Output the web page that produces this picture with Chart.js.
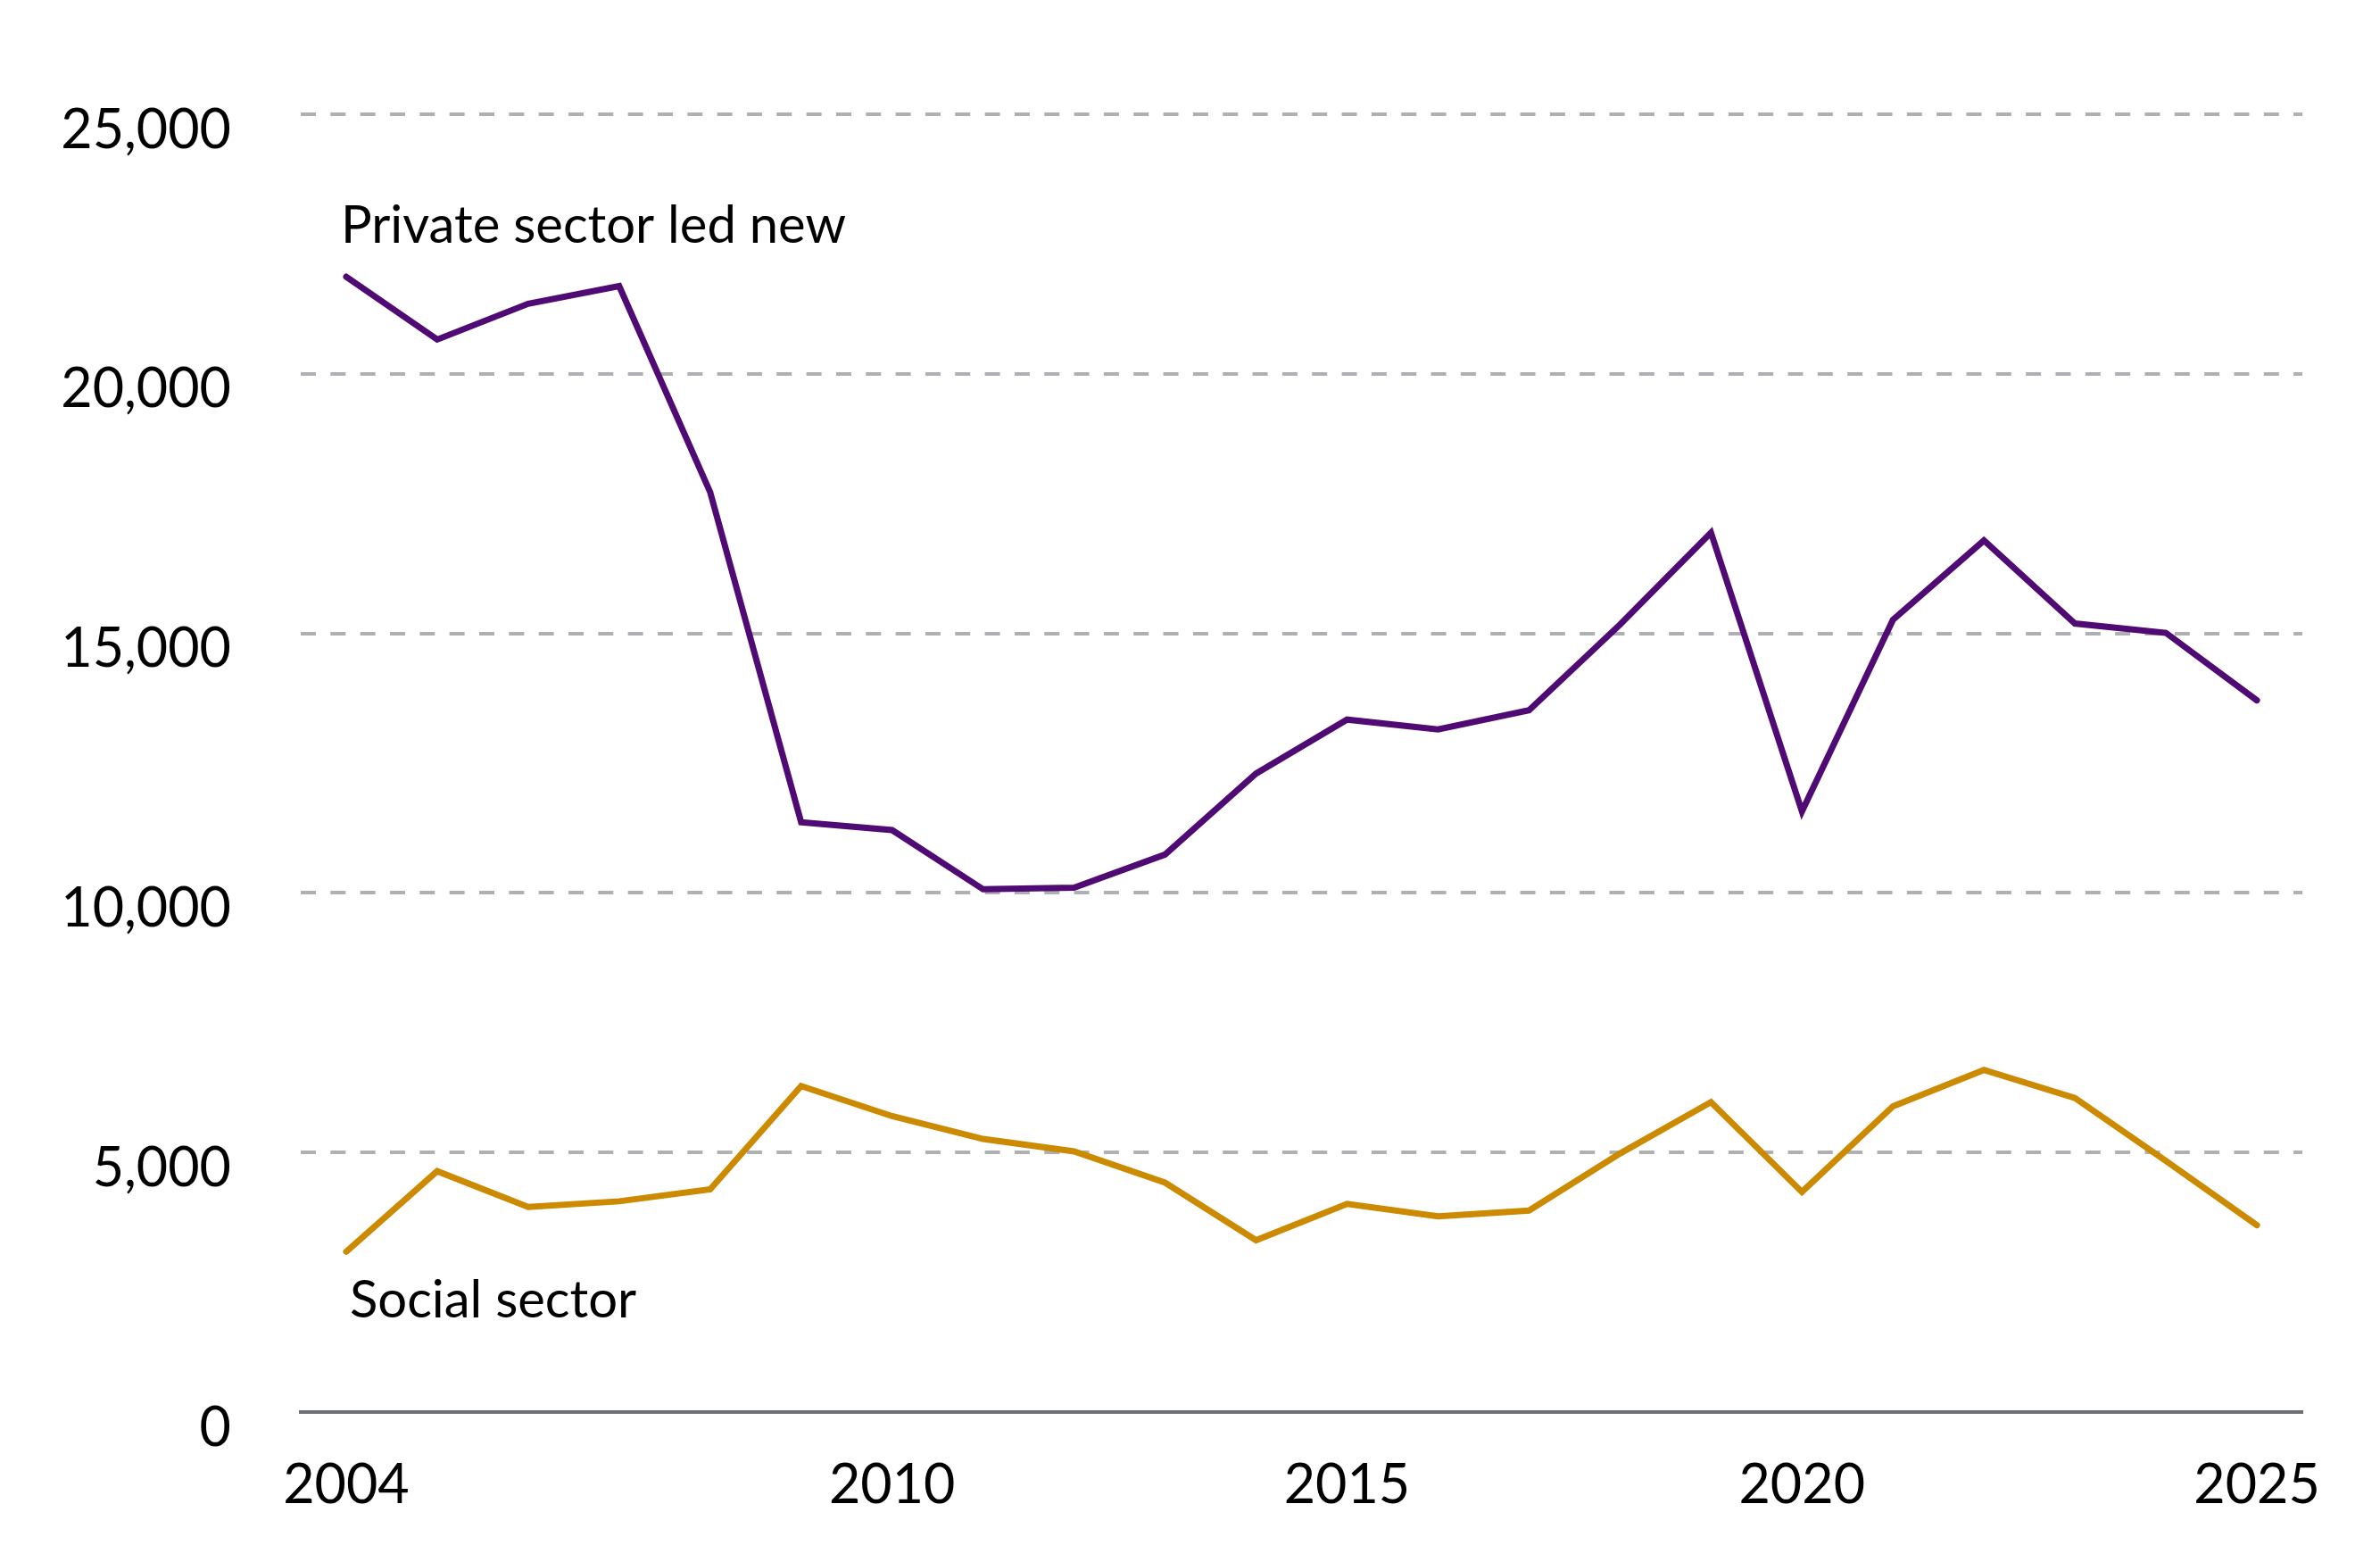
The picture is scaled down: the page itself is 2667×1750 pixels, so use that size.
<!DOCTYPE html>
<html>
<head>
<meta charset="utf-8">
<title>new build</title>
<script src="https://cdn.jsdelivr.net/npm/chart.js@4.4.1/dist/chart.umd.min.js"></script>
<style>
	body { margin:0; background:#ffffff; }
	canvas { display:block; }
</style>
</head>
<body>
<canvas id="myChart" width="2667" height="1750"></canvas>
<script>
//연도
const years = [2004,2005,2006,2007,2008,2009,2010,2011,2012,2013,2014,2015,2016,2017,2018,2019,2020,2021,2022,2023,2024,2025];
//민간 부문
const privateLed = [21870,20660,21350,21690,17720,11360,11210,10070,10100,10740,12300,13340,13150,13520,15170,16940,11570,15260,16790,15190,15010,13710];
//사회 부문
const socialSector = [3090,4640,3950,4060,4290,6280,5700,5260,5020,4420,3310,4010,3770,3880,4980,5970,4240,5890,6590,6050,4840,3600];
//축 눈금
const xTicks = [2004,2010,2015,2020,2025];
const yTicks = [0,5000,10000,15000,20000,25000];
//선 라벨 (연도, 값 기준 위치)
const lineLabels = [
	{text:'Private sector led new', year:2004, value:22850},
	{text:'Social sector', year:2004, value:2150}
];

const purple = '#4f0a74';
const gold = '#cc8a00';
const fontName = 'Lato';

//라벨 그리기
const labelPlugin = {
	id:'lineLabels',
	afterDatasetsDraw(chart){
		const ctx = chart.ctx;
		const xs = chart.scales.x;
		const ys = chart.scales.y;
		ctx.save();
		ctx.font = '58px ' + fontName;
		ctx.fillStyle = '#000000';
		ctx.textBaseline = 'middle';
		ctx.textAlign = 'left';
		lineLabels.forEach(function(l, i){
			let dx = i === 0 ? -6 : 4;
			ctx.fillText(l.text, xs.getPixelForValue(l.year) + dx, ys.getPixelForValue(l.value));
		});
		ctx.restore();
	}
};

function toPoints(arr){
	return arr.map((v,i) => ({x:years[i], y:v}));
}

const ctx = document.getElementById('myChart');
new Chart(ctx, {
	type:'line',
	data:{
		datasets:[{
			label:'Private sector led new',
			data:toPoints(privateLed),
			borderColor:purple,
			borderWidth:7,
			pointRadius:0,
			tension:0,
			borderCapStyle:'round',
			borderJoinStyle:'miter'
		},{
			label:'Social sector',
			data:toPoints(socialSector),
			borderColor:gold,
			borderWidth:7,
			pointRadius:0,
			tension:0,
			borderCapStyle:'round',
			borderJoinStyle:'miter'
		}]
	},
	options:{
		responsive:false,
		animation:false,
		layout:{ padding:{ top:128, right:87, left:0, bottom:0 } },
		plugins:{ legend:{display:false}, tooltip:{enabled:false} },
		scales:{
			x:{
				type:'linear',
				min:2003.5,
				max:2025.5,
				afterBuildTicks(scale){ scale.ticks = xTicks.map(v => ({value:v})); },
				afterFit(scale){ scale.height = 168; },
				grid:{ display:false, drawTicks:false },
				border:{ display:true, color:'#6d7174', width:4 },
				ticks:{
					padding:46,
					color:'#000000',
					font:{ family:fontName, size:61 },
					maxRotation:0,
					callback:v => String(v)
				}
			},
			y:{
				min:0,
				max:25000,
				afterBuildTicks(scale){ scale.ticks = yTicks.map(v => ({value:v})); },
				afterFit(scale){ scale.width = 337; },
				border:{ display:false, dash:[17,16.33] },
				grid:{
					drawTicks:false,
					lineWidth:4,
					color:c => c.tick.value === 0 ? 'rgba(0,0,0,0)' : '#aeb0b3'
				},
				ticks:{
					padding:78,
					labelOffset:18,
					color:'#000000',
					font:{ family:fontName, size:61 },
					callback:v => v.toLocaleString('en-GB')
				}
			}
		}
	},
	plugins:[labelPlugin]
});
</script>
</body>
</html>
